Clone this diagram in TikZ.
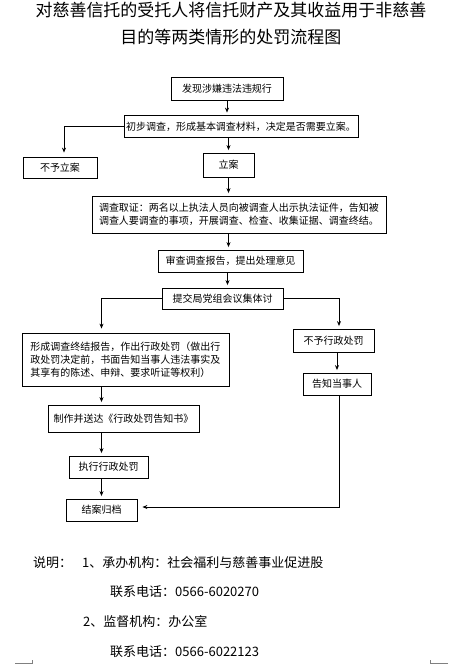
\documentclass[tikz,border=0pt]{standalone}
\usepackage{fontspec}
\setmainfont{Noto Sans CJK SC}
\usetikzlibrary{arrows.meta}
\begin{document}
\begin{tikzpicture}[x=1pt, y=-1pt,
  box/.style={draw, line width=0.8pt, inner sep=0pt, font=\fontsize{10}{12.8}\selectfont},
  arr/.style={-{Stealth[length=5pt,width=4pt]}, line width=0.8pt, shorten >=2.5pt},
  note/.style={anchor=west, inner sep=0pt, font=\fontsize{13}{15}\selectfont}]
\useasboundingbox (0,0) rectangle (468,665);
% title
\node[font=\fontsize{17}{27}\selectfont, align=center] (title) at (231,23.5)
  {对慈善信托的受托人将信托财产及其收益用于非慈善\\目的等两类情形的处罚流程图};
% boxes
\node[box, minimum width=112, minimum height=23] (faxian) at (227,88.5) {发现涉嫌违法违规行};
\node[box, minimum width=234, minimum height=22] (chubu) at (241,126.5) {初步调查，形成基本调查材料，决定是否需要立案。};
\node[box, minimum width=74, minimum height=21] (buyu) at (60,167.5) {不予立案};
\node[box, minimum width=51, minimum height=24] (lian) at (228.5,165) {立案};
\node[box, minimum width=294, minimum height=37, align=left] (diaocha) at (239,214.5)
  {调查取证：两名以上执法人员向被调查人出示执法证件，告知被\\调查人要调查的事项，开展调查、检查、收集证据、调查终结。};
\node[box, minimum width=145, minimum height=22] (shencha) at (230.5,261) {审查调查报告，提出处理意见};
\node[box, minimum width=121, minimum height=21] (tijiao) at (222.5,298.5) {提交局党组会议集体讨};
\node[box, minimum width=207, minimum height=53, align=left] (xingcheng) at (125.5,359.5)
  {形成调查终结报告，作出行政处罚（做出行\\政处罚决定前，书面告知当事人违法事实及\\其享有的陈述、申辩、要求听证等权利）};
\node[box, minimum width=81, minimum height=23] (buxingzheng) at (333.5,340.5) {不予行政处罚};
\node[box, minimum width=68, minimum height=22] (gaozhi) at (337,384) {告知当事人};
\node[box, minimum width=151, minimum height=27] (zhizuo) at (123.5,418.5) {制作并送达《行政处罚告知书》};
\node[box, minimum width=79, minimum height=22] (zhixing) at (108.5,467) {执行行政处罚};
\node[box, minimum width=71, minimum height=22] (jiean) at (101.5,510) {结案归档};
% arrows
\draw[arr] (faxian.south) -- (faxian.south |- chubu.north);
\draw[arr] (chubu.south -| lian.north) -- (lian.north);
\draw[arr, shorten >=4pt] (chubu.west) -| ([xshift=4pt]buyu.north);
\draw[arr] (lian.south) -- (lian.south |- diaocha.north);
\draw[arr] (diaocha.south -| lian.south) -- (shencha.north -| lian.south);
\draw[arr] (shencha.south -| tijiao.north) ++(5pt,0) -- ([xshift=5pt]tijiao.north);
\draw[arr, shorten >=4pt] (tijiao.west) -| (xingcheng.north -| jiean.north);
\draw[arr] (tijiao.east) -| ([xshift=5.5pt]buxingzheng.north);
\draw[arr] (buxingzheng.south -| gaozhi.north) -- (gaozhi.north);
\draw[arr, shorten >=5pt] ([xshift=2pt]gaozhi.south) |- ([yshift=3pt]jiean.east);
\draw[arr] (xingcheng.south -| jiean.north) -- (zhizuo.north -| jiean.north);
\draw[arr] (zhizuo.south -| jiean.north) -- (zhixing.north -| jiean.north);
\draw[arr] (zhixing.south -| jiean.north) -- (jiean.north);
% notes
\node[note] (shuoming) at (33,563) {说明：};
\node[note] (item1) at (82,563) {1、承办机构：社会福利与慈善事业促进股};
\node[note] (tel1) at (110,592) {联系电话：0566-6020270};
\node[note] (item2) at (83,622) {2、监督机构：办公室};
\node[note] (tel2) at (110,652) {联系电话：0566-6022123};
% page corner marks
\draw[gray] (15,663.5) -- (32,663.5) -- (32,660);
\draw[gray] (448,663.5) -- (430,663.5) -- (430,660);
\end{tikzpicture}
\end{document}
